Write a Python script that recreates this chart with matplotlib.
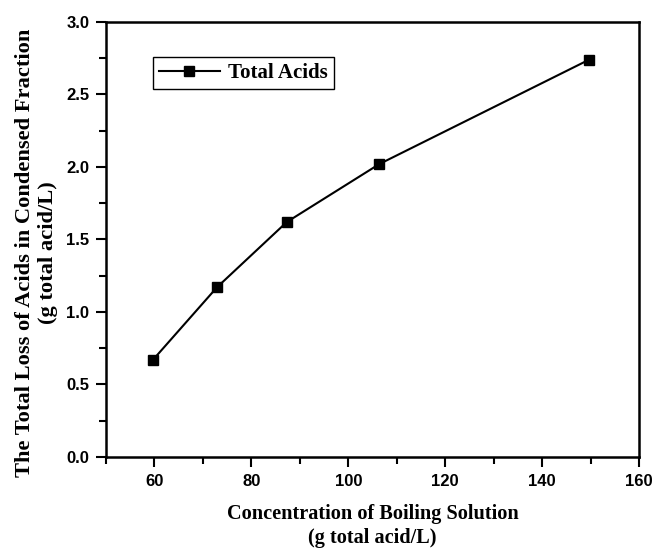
import matplotlib
matplotlib.use("Agg")
import matplotlib.pyplot as plt
from matplotlib.ticker import MultipleLocator

# boiling-solution concentration vs acid loss in the condensate
conc = [59.7, 72.9, 87.3, 106.4, 149.7]
total_acids = [0.67, 1.17, 1.62, 2.02, 2.74]

x_ticks = [60, 80, 100, 120, 140, 160]
y_ticks = [0.0, 0.5, 1.0, 1.5, 2.0, 2.5, 3.0]

serif = ["Liberation Serif", "DejaVu Serif"]
sans = ["Liberation Sans", "DejaVu Sans"]

fig = plt.figure(figsize=(6.55, 5.48), dpi=100)
ax = fig.add_axes([0.1618, 0.1661, 0.8138, 0.7938])

ax.plot(conc, total_acids, color="black", linewidth=1.5, marker="s",
        markersize=6.5, label="Total Acids")

ax.set_xlim(50, 160)
ax.set_ylim(0, 3.0)
ax.set_xticks(x_ticks)
ax.set_yticks(y_ticks)
ax.xaxis.set_minor_locator(MultipleLocator(10))
ax.yaxis.set_minor_locator(MultipleLocator(0.25))
ax.tick_params(which="both", direction="out", width=1.5, top=False, right=False)
ax.tick_params(which="major", length=7, pad=5)
ax.tick_params(which="minor", length=5)
for lab in ax.get_xticklabels() + ax.get_yticklabels():
    lab.set_fontfamily(sans)
    lab.set_fontweight("bold")
    lab.set_fontsize(12)
for sp in ax.spines.values():
    sp.set_linewidth(1.8)

ax.set_xlabel("Concentration of Boiling Solution\n(g total acid/L)",
              fontfamily=serif, fontweight="bold", fontsize=14.6, labelpad=11,
              linespacing=1.25)
ax.set_ylabel("The Total Loss of Acids in Condensed Fraction\n(g total acid/L)",
              fontfamily=serif, fontweight="bold", fontsize=16.2,
              linespacing=1.2)
ax.yaxis.set_label_coords(-0.09, 0.469)

leg = ax.legend(loc="upper left", bbox_to_anchor=(0.088, 0.92), borderaxespad=0,
                fancybox=False, edgecolor="black", framealpha=1, handlelength=2.9,
                handletextpad=0.4, borderpad=0.3,
                prop={"family": serif, "weight": "bold", "size": 15})
leg.get_frame().set_linewidth(1.0)

fig.savefig("out.png", dpi=100)
